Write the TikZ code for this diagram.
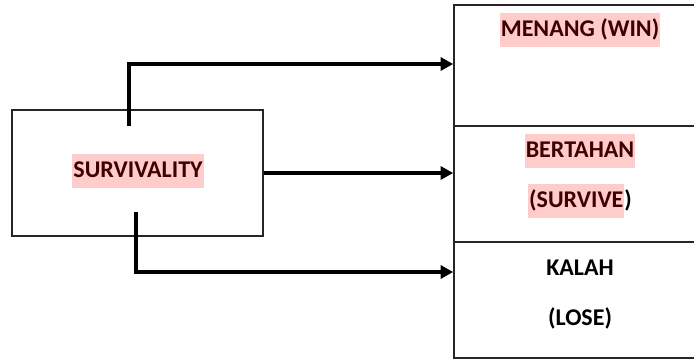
\documentclass[tikz,border=0pt]{standalone}
\usepackage{fontspec}
\setmainfont{Carlito}
\usetikzlibrary{arrows.meta,calc}
\definecolor{hilite}{RGB}{255,204,204}
\definecolor{darkred}{RGB}{64,0,0}
\newcommand{\hltext}[1]{{\setlength{\fboxsep}{0.5pt}\colorbox{hilite}{\strut\textcolor{darkred}{#1}}}}
\tikzset{
  box/.style={draw=black!85, line width=0.8pt, inner sep=0pt},
  link/.style={line width=1.7pt, -{Triangle[length=6.3pt,width=6.5pt]}},
  label/.style={font=\fontsize{12}{16}\selectfont\bfseries, inner sep=0pt}
}
\begin{document}
\begin{tikzpicture}[x=0.5pt,y=-0.5pt]
    \useasboundingbox (0,0) rectangle (694,360);
    \clip (0,0) rectangle (694,360);

    % left box
    \node[box, minimum width=125.5pt, minimum height=63pt] (surv) at (137.5,173) {};
    \node[label] (survtxt) at (138,171) {\hltext{SURVIVALITY}};

    % outcome boxes
    \node[box, minimum width=126pt, minimum height=60.5pt] (win) at (580,65.5) {};
    \node[box, minimum width=126pt, minimum height=58pt] (survive) at (580,184) {};
    \node[box, minimum width=126pt, minimum height=58pt] (lose) at (580,300) {};

    \node[label] (wintxt) at (580,30) {\hltext{MENANG (WIN)}};
    \node[label] (survtxta) at (580,151) {\hltext{BERTAHAN}};
    \node[label] (survtxtb) at (580,201) {\hltext{(SURVIVE})};
    \node[label] (losetxta) at (580,268) {KALAH};
    \node[label] (losetxtb) at (580,318) {(LOSE)};

    % arrows
    \coordinate (topstart) at (129,126);
    \coordinate (botstart) at (136,212);
    \draw[link] (topstart) |- ($(win.west)+(0,-1.5)$);
    \draw[link] (surv.east) -- (surv.east -| survive.west);
    \draw[link] (botstart) |- ($(lose.west)+(0,-28)$);
\end{tikzpicture}
\end{document}
